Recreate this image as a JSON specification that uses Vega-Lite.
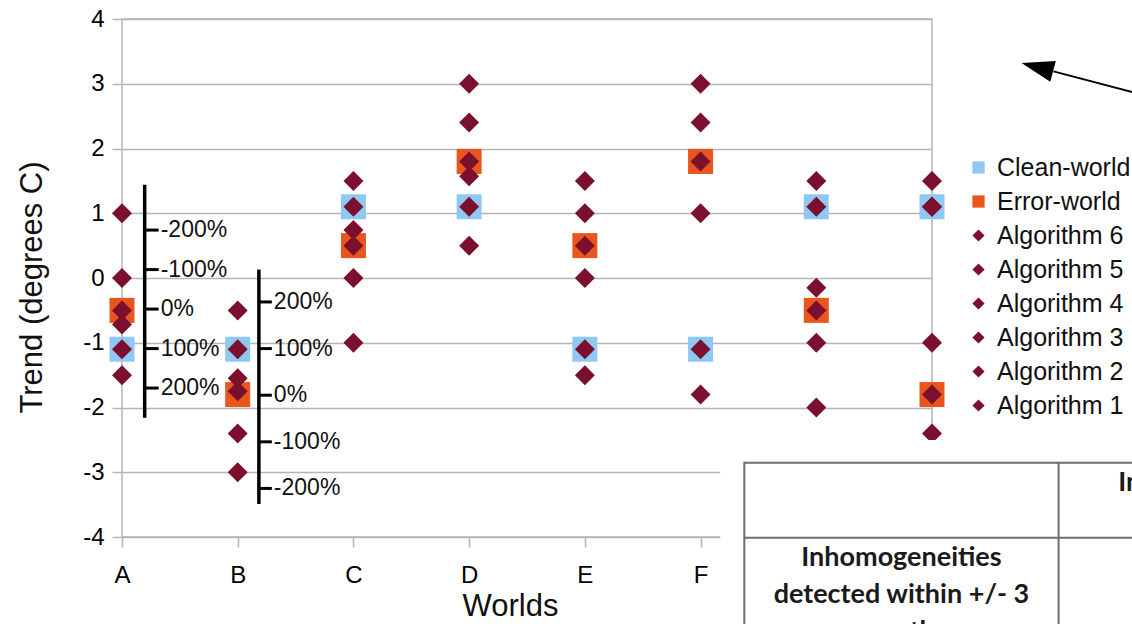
{
  "$schema": "https://vega.github.io/schema/vega-lite/v6.json",
  "width": 810,
  "height": 518,
  "autosize": {"type": "none"},
  "padding": {"left": 122, "top": 19, "right": 200, "bottom": 87},
  "background": "white",
  "config": {
    "font": "Liberation Sans",
    "view": {"stroke": "#b5b5b5", "strokeWidth": 1.5},
    "legend": {
      "orient": "none",
      "legendX": 844,
      "legendY": 136,
      "padding": 0,
      "labelFontSize": 25,
      "labelColor": "#111111",
      "labelFont": "Liberation Sans",
      "labelOffset": 6,
      "labelLimit": 300,
      "symbolSize": 150,
      "symbolStrokeWidth": 0,
      "rowPadding": 8
    }
  },
  "datasets": {
    "trends": [
      {"world": "A", "worldIndex": 0, "series": "Clean-world", "trend": -1.1},
      {"world": "A", "worldIndex": 0, "series": "Error-world", "trend": -0.5},
      {"world": "A", "worldIndex": 0, "series": "Algorithm 1", "trend": 1.0},
      {"world": "A", "worldIndex": 0, "series": "Algorithm 2", "trend": 0.0},
      {"world": "A", "worldIndex": 0, "series": "Algorithm 3", "trend": -0.5},
      {"world": "A", "worldIndex": 0, "series": "Algorithm 4", "trend": -0.72},
      {"world": "A", "worldIndex": 0, "series": "Algorithm 5", "trend": -1.1},
      {"world": "A", "worldIndex": 0, "series": "Algorithm 6", "trend": -1.5},
      {"world": "B", "worldIndex": 1, "series": "Clean-world", "trend": -1.1},
      {"world": "B", "worldIndex": 1, "series": "Error-world", "trend": -1.8},
      {"world": "B", "worldIndex": 1, "series": "Algorithm 1", "trend": -0.5},
      {"world": "B", "worldIndex": 1, "series": "Algorithm 2", "trend": -1.1},
      {"world": "B", "worldIndex": 1, "series": "Algorithm 3", "trend": -1.55},
      {"world": "B", "worldIndex": 1, "series": "Algorithm 4", "trend": -1.75},
      {"world": "B", "worldIndex": 1, "series": "Algorithm 5", "trend": -2.4},
      {"world": "B", "worldIndex": 1, "series": "Algorithm 6", "trend": -3.0},
      {"world": "C", "worldIndex": 2, "series": "Clean-world", "trend": 1.1},
      {"world": "C", "worldIndex": 2, "series": "Error-world", "trend": 0.5},
      {"world": "C", "worldIndex": 2, "series": "Algorithm 1", "trend": 1.5},
      {"world": "C", "worldIndex": 2, "series": "Algorithm 2", "trend": 1.1},
      {"world": "C", "worldIndex": 2, "series": "Algorithm 3", "trend": 0.74},
      {"world": "C", "worldIndex": 2, "series": "Algorithm 4", "trend": 0.5},
      {"world": "C", "worldIndex": 2, "series": "Algorithm 5", "trend": 0.0},
      {"world": "C", "worldIndex": 2, "series": "Algorithm 6", "trend": -1.0},
      {"world": "D", "worldIndex": 3, "series": "Clean-world", "trend": 1.1},
      {"world": "D", "worldIndex": 3, "series": "Error-world", "trend": 1.8},
      {"world": "D", "worldIndex": 3, "series": "Algorithm 1", "trend": 3.0},
      {"world": "D", "worldIndex": 3, "series": "Algorithm 2", "trend": 2.4},
      {"world": "D", "worldIndex": 3, "series": "Algorithm 3", "trend": 1.8},
      {"world": "D", "worldIndex": 3, "series": "Algorithm 4", "trend": 1.57},
      {"world": "D", "worldIndex": 3, "series": "Algorithm 5", "trend": 1.1},
      {"world": "D", "worldIndex": 3, "series": "Algorithm 6", "trend": 0.5},
      {"world": "E", "worldIndex": 4, "series": "Clean-world", "trend": -1.1},
      {"world": "E", "worldIndex": 4, "series": "Error-world", "trend": 0.5},
      {"world": "E", "worldIndex": 4, "series": "Algorithm 1", "trend": 1.5},
      {"world": "E", "worldIndex": 4, "series": "Algorithm 2", "trend": 1.0},
      {"world": "E", "worldIndex": 4, "series": "Algorithm 3", "trend": 0.5},
      {"world": "E", "worldIndex": 4, "series": "Algorithm 4", "trend": 0.0},
      {"world": "E", "worldIndex": 4, "series": "Algorithm 5", "trend": -1.1},
      {"world": "E", "worldIndex": 4, "series": "Algorithm 6", "trend": -1.5},
      {"world": "F", "worldIndex": 5, "series": "Clean-world", "trend": -1.1},
      {"world": "F", "worldIndex": 5, "series": "Error-world", "trend": 1.8},
      {"world": "F", "worldIndex": 5, "series": "Algorithm 1", "trend": 3.0},
      {"world": "F", "worldIndex": 5, "series": "Algorithm 2", "trend": 2.4},
      {"world": "F", "worldIndex": 5, "series": "Algorithm 3", "trend": 1.8},
      {"world": "F", "worldIndex": 5, "series": "Algorithm 4", "trend": 1.0},
      {"world": "F", "worldIndex": 5, "series": "Algorithm 5", "trend": -1.1},
      {"world": "F", "worldIndex": 5, "series": "Algorithm 6", "trend": -1.8},
      {"world": "G", "worldIndex": 6, "series": "Clean-world", "trend": 1.1},
      {"world": "G", "worldIndex": 6, "series": "Error-world", "trend": -0.5},
      {"world": "G", "worldIndex": 6, "series": "Algorithm 1", "trend": 1.5},
      {"world": "G", "worldIndex": 6, "series": "Algorithm 2", "trend": 1.1},
      {"world": "G", "worldIndex": 6, "series": "Algorithm 3", "trend": -0.15},
      {"world": "G", "worldIndex": 6, "series": "Algorithm 4", "trend": -0.5},
      {"world": "G", "worldIndex": 6, "series": "Algorithm 5", "trend": -1.0},
      {"world": "G", "worldIndex": 6, "series": "Algorithm 6", "trend": -2.0},
      {"world": "H", "worldIndex": 7, "series": "Clean-world", "trend": 1.1},
      {"world": "H", "worldIndex": 7, "series": "Error-world", "trend": -1.8},
      {"world": "H", "worldIndex": 7, "series": "Algorithm 1", "trend": 1.5},
      {"world": "H", "worldIndex": 7, "series": "Algorithm 2", "trend": 1.1},
      {"world": "H", "worldIndex": 7, "series": "Algorithm 3", "trend": 1.1},
      {"world": "H", "worldIndex": 7, "series": "Algorithm 4", "trend": -1.0},
      {"world": "H", "worldIndex": 7, "series": "Algorithm 5", "trend": -1.8},
      {"world": "H", "worldIndex": 7, "series": "Algorithm 6", "trend": -2.4}
    ],
    "scalebars": [
      {"bar": "A", "at": 0.196, "top": 1.44, "bottom": -2.16},
      {"bar": "B", "at": 1.183, "top": 0.13, "bottom": -3.49}
    ],
    "scaleticks": [
      {"bar": "A", "at": 0.196, "end": 0.317, "level": 0.74, "label": "-200%"},
      {"bar": "A", "at": 0.196, "end": 0.317, "level": 0.13, "label": "-100%"},
      {"bar": "A", "at": 0.196, "end": 0.317, "level": -0.48, "label": "0%"},
      {"bar": "A", "at": 0.196, "end": 0.317, "level": -1.09, "label": "100%"},
      {"bar": "A", "at": 0.196, "end": 0.317, "level": -1.7, "label": "200%"},
      {"bar": "B", "at": 1.183, "end": 1.295, "level": -0.37, "label": "200%"},
      {"bar": "B", "at": 1.183, "end": 1.295, "level": -1.09, "label": "100%"},
      {"bar": "B", "at": 1.183, "end": 1.295, "level": -1.81, "label": "0%"},
      {"bar": "B", "at": 1.183, "end": 1.295, "level": -2.53, "label": "-100%"},
      {"bar": "B", "at": 1.183, "end": 1.295, "level": -3.25, "label": "-200%"}
    ],
    "arrowline": [{"from": 8.05, "to": 8.8, "fromLevel": 3.19, "toLevel": 2.84}],
    "arrowhead": [{"at": 7.91, "level": 3.255}],
    "tablecover": [{"left": 5.17, "right": 9.6, "top": -2.5, "bottom": -6.0}],
    "tablebox": [{"left": 5.378, "right": 9.6, "top": -2.853, "bottom": -6.0}],
    "tablevlines": [{"at": 8.094, "top": -2.853, "bottom": -6.0}],
    "tablehlines": [{"left": 5.378, "right": 9.6, "level": -4.01}],
    "tablecells": [
      {"at": 6.736, "level": -4.32, "text": "Inhomogeneities"},
      {"at": 6.736, "level": -4.89, "text": "detected within +/- 3"},
      {"at": 6.736, "level": -5.46, "text": "months"}
    ],
    "tablehead": [
      {"at": 8.61, "level": -3.16, "text": "Inhomogeneities"}
    ]
  },
  "layer": [
    {
      "data": {"name": "trends"},
      "transform": [{"filter": "datum.series === 'Clean-world' || datum.series === 'Error-world'"}],
      "mark": {"type": "point", "filled": true, "opacity": 1, "size": 625, "strokeWidth": 0},
      "encoding": {
        "x": {
          "field": "worldIndex", "type": "quantitative",
          "scale": {"domain": [0, 7], "nice": false, "zero": false},
          "axis": {
            "values": [0, 1, 2, 3, 4, 5, 6, 7],
            "labelExpr": "['A','B','C','D','E','F','',''][datum.value]",
            "grid": false,
            "domain": false,
            "tickSize": 10,
            "tickColor": "#b5b5b5",
            "tickWidth": 1.5,
            "labelFontSize": 24,
            "labelColor": "#000000",
            "labelPadding": 16,
            "labelFlush": false,
            "labelOverlap": false,
            "title": "Worlds",
            "titleFontSize": 31,
            "titleFontWeight": "normal",
            "titleColor": "#111111",
            "titleBaseline": "alphabetic",
            "titleX": 388,
            "titleY": 78
          }
        },
        "y": {
          "field": "trend", "type": "quantitative",
          "scale": {"domain": [-4, 4], "nice": false, "zero": false},
          "axis": {
            "values": [-4, -3, -2, -1, 0, 1, 2, 3, 4],
            "labelExpr": "datum.value < 0 ? '-' + abs(datum.value) : '' + datum.value",
            "grid": true,
            "gridColor": "#b5b5b5",
            "gridWidth": 1.5,
            "domain": false,
            "tickSize": 10,
            "tickColor": "#b5b5b5",
            "tickWidth": 1.5,
            "labelFontSize": 24,
            "labelColor": "#000000",
            "labelPadding": 8,
            "labelFlush": false,
            "labelOverlap": false,
            "title": "Trend (degrees C)",
            "titleFontSize": 31,
            "titleFontWeight": "normal",
            "titleColor": "#111111",
            "titleBaseline": "alphabetic",
            "titleX": -81,
            "titleY": 268
          }
        },
        "color": {
          "field": "series", "type": "nominal",
          "scale": {
            "domain": ["Clean-world", "Error-world", "Algorithm 6", "Algorithm 5", "Algorithm 4", "Algorithm 3", "Algorithm 2", "Algorithm 1"],
            "range": ["#8fc8f2", "#e9561d", "#7b0f2e", "#7b0f2e", "#7b0f2e", "#7b0f2e", "#7b0f2e", "#7b0f2e"]
          },
          "legend": {"title": null}
        },
        "shape": {
          "field": "series", "type": "nominal",
          "scale": {
            "domain": ["Clean-world", "Error-world", "Algorithm 6", "Algorithm 5", "Algorithm 4", "Algorithm 3", "Algorithm 2", "Algorithm 1"],
            "range": ["square", "square", "diamond", "diamond", "diamond", "diamond", "diamond", "diamond"]
          },
          "legend": {"title": null}
        }
      }
    },
    {
      "data": {"name": "trends"},
      "transform": [{"filter": "datum.series !== 'Clean-world' && datum.series !== 'Error-world'"}],
      "mark": {"type": "point", "filled": true, "opacity": 1, "size": 400, "strokeWidth": 0},
      "encoding": {
        "x": {"field": "worldIndex", "type": "quantitative", "scale": {"domain": [0, 7], "nice": false, "zero": false}},
        "y": {"field": "trend", "type": "quantitative", "scale": {"domain": [-4, 4], "nice": false, "zero": false}},
        "color": {"field": "series", "type": "nominal"},
        "shape": {"field": "series", "type": "nominal"}
      }
    },
    {
      "data": {"name": "scalebars"},
      "mark": {"type": "rule", "color": "#000000", "strokeWidth": 3.5},
      "encoding": {
        "x": {"field": "at", "type": "quantitative", "scale": {"domain": [0, 7], "nice": false, "zero": false}},
        "y": {"field": "top", "type": "quantitative", "scale": {"domain": [-4, 4], "nice": false, "zero": false}},
        "y2": {"field": "bottom"}
      }
    },
    {
      "data": {"name": "scaleticks"},
      "mark": {"type": "rule", "color": "#000000", "strokeWidth": 3},
      "encoding": {
        "x": {"field": "at", "type": "quantitative", "scale": {"domain": [0, 7], "nice": false, "zero": false}},
        "x2": {"field": "end"},
        "y": {"field": "level", "type": "quantitative", "scale": {"domain": [-4, 4], "nice": false, "zero": false}}
      }
    },
    {
      "data": {"name": "scaleticks"},
      "mark": {"type": "text", "align": "left", "baseline": "middle", "dx": 2, "fontSize": 23, "color": "#111111"},
      "encoding": {
        "x": {"field": "end", "type": "quantitative", "scale": {"domain": [0, 7], "nice": false, "zero": false}},
        "y": {"field": "level", "type": "quantitative", "scale": {"domain": [-4, 4], "nice": false, "zero": false}},
        "text": {"field": "label"}
      }
    },
    {
      "data": {"name": "arrowline"},
      "mark": {"type": "rule", "color": "#000000", "strokeWidth": 1.8},
      "encoding": {
        "x": {"field": "from", "type": "quantitative", "scale": {"domain": [0, 7], "nice": false, "zero": false}},
        "x2": {"field": "to"},
        "y": {"field": "fromLevel", "type": "quantitative", "scale": {"domain": [-4, 4], "nice": false, "zero": false}},
        "y2": {"field": "toLevel"}
      }
    },
    {
      "data": {"name": "arrowhead"},
      "mark": {"type": "point", "filled": true, "color": "#000000", "opacity": 1, "shape": "M-1,0L1,-0.66L1,0.66Z", "size": 1063, "angle": 15, "strokeWidth": 0},
      "encoding": {
        "x": {"field": "at", "type": "quantitative", "scale": {"domain": [0, 7], "nice": false, "zero": false}},
        "y": {"field": "level", "type": "quantitative", "scale": {"domain": [-4, 4], "nice": false, "zero": false}}
      }
    },
    {
      "data": {"name": "tablecover"},
      "mark": {"type": "rect", "fill": "#ffffff", "strokeWidth": 0},
      "encoding": {
        "x": {"field": "left", "type": "quantitative", "scale": {"domain": [0, 7], "nice": false, "zero": false}},
        "x2": {"field": "right"},
        "y": {"field": "top", "type": "quantitative", "scale": {"domain": [-4, 4], "nice": false, "zero": false}},
        "y2": {"field": "bottom"}
      }
    },
    {
      "data": {"name": "tablebox"},
      "mark": {"type": "rect", "fill": "#ffffff", "fillOpacity": 0, "stroke": "#6e6e6e", "strokeWidth": 2},
      "encoding": {
        "x": {"field": "left", "type": "quantitative", "scale": {"domain": [0, 7], "nice": false, "zero": false}},
        "x2": {"field": "right"},
        "y": {"field": "top", "type": "quantitative", "scale": {"domain": [-4, 4], "nice": false, "zero": false}},
        "y2": {"field": "bottom"}
      }
    },
    {
      "data": {"name": "tablevlines"},
      "mark": {"type": "rule", "color": "#6e6e6e", "strokeWidth": 2},
      "encoding": {
        "x": {"field": "at", "type": "quantitative", "scale": {"domain": [0, 7], "nice": false, "zero": false}},
        "y": {"field": "top", "type": "quantitative", "scale": {"domain": [-4, 4], "nice": false, "zero": false}},
        "y2": {"field": "bottom"}
      }
    },
    {
      "data": {"name": "tablehlines"},
      "mark": {"type": "rule", "color": "#6e6e6e", "strokeWidth": 2},
      "encoding": {
        "x": {"field": "left", "type": "quantitative", "scale": {"domain": [0, 7], "nice": false, "zero": false}},
        "x2": {"field": "right"},
        "y": {"field": "level", "type": "quantitative", "scale": {"domain": [-4, 4], "nice": false, "zero": false}}
      }
    },
    {
      "data": {"name": "tablecells"},
      "mark": {"type": "text", "align": "center", "baseline": "middle", "font": "Lato", "fontWeight": "bold", "fontSize": 27, "color": "#1a1a1a"},
      "encoding": {
        "x": {"field": "at", "type": "quantitative", "scale": {"domain": [0, 7], "nice": false, "zero": false}},
        "y": {"field": "level", "type": "quantitative", "scale": {"domain": [-4, 4], "nice": false, "zero": false}},
        "text": {"field": "text"}
      }
    },
    {
      "data": {"name": "tablehead"},
      "mark": {"type": "text", "align": "left", "baseline": "middle", "font": "Lato", "fontWeight": "bold", "fontSize": 27, "color": "#1a1a1a"},
      "encoding": {
        "x": {"field": "at", "type": "quantitative", "scale": {"domain": [0, 7], "nice": false, "zero": false}},
        "y": {"field": "level", "type": "quantitative", "scale": {"domain": [-4, 4], "nice": false, "zero": false}},
        "text": {"field": "text"}
      }
    }
  ]
}
